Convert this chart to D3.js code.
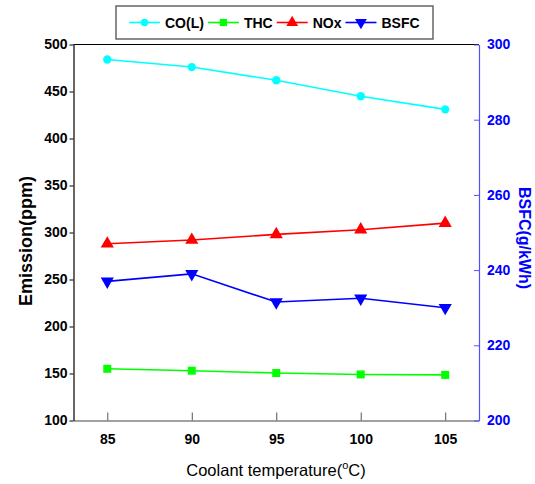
<!DOCTYPE html>
<html>
<head>
<meta charset="utf-8">
<script src="https://cdn.jsdelivr.net/npm/d3@7"></script>
<style>
  body { margin: 0; background: #fff; }
  text { font-family: "Liberation Sans", Arial, sans-serif; }
</style>
</head>
<body>
<div id="chart"></div>
<script>
// Data
var temps = [85, 90, 95, 100, 105];
var coL   = [484, 476, 462, 445, 431];
var thc   = [155, 153, 150.5, 149, 148.5];
var nox   = [288, 292, 298, 303, 310];
var bsfc  = [237, 239, 231.5, 232.5, 230];

var leftTicks  = [100, 150, 200, 250, 300, 350, 400, 450, 500];
var rightTicks = [200, 220, 240, 260, 280, 300];

var series = [
  {name: "CO(L)", values: coL,  axis: "left",  color: "#00ffff", symbol: d3.symbolCircle,   size: 55},
  {name: "THC",   values: thc,  axis: "left",  color: "#00ff00", symbol: d3.symbolSquare,   size: 64},
  {name: "NOx",   values: nox,  axis: "left",  color: "#ff0000", symbol: d3.symbolTriangle, size: 75},
  {name: "BSFC",  values: bsfc, axis: "right", color: "#0000ff", symbol: d3.symbolTriangle, size: 75, flip: true}
];

var width = 535, height = 484;
var plot = {left: 73.5, right: 479, top: 44.5, bottom: 420.5};

var svg = d3.select("#chart").append("svg")
    .attr("width", width)
    .attr("height", height);

var x  = d3.scaleLinear().domain([83, 107]).range([plot.left, plot.right]);
var yL = d3.scaleLinear().domain([100, 500]).range([plot.bottom, plot.top]);
var yR = d3.scaleLinear().domain([200, 300]).range([plot.bottom, plot.top]);

// top frame line
svg.append("line")
    .attr("x1", plot.left).attr("x2", plot.right)
    .attr("y1", plot.top).attr("y2", plot.top)
    .attr("stroke", "#000").attr("stroke-width", 1.2);

// bottom axis
var gx = svg.append("g")
    .attr("transform", "translate(0," + plot.bottom + ")")
    .call(d3.axisBottom(x).tickValues(temps).tickSizeInner(-8).tickSizeOuter(0).tickPadding(14));
gx.select(".domain").attr("stroke", "#444").attr("stroke-width", 1.2);
gx.selectAll(".tick line").attr("stroke", "#555");
gx.selectAll("text").attr("font-size", 14).attr("font-weight", "bold").attr("fill", "#000");

// left axis
var gl = svg.append("g")
    .attr("transform", "translate(" + plot.left + ",0)")
    .call(d3.axisLeft(yL).tickValues(leftTicks).tickSizeInner(4).tickSizeOuter(0).tickPadding(2));
gl.select(".domain").attr("stroke", "#000").attr("stroke-width", 1.2);
gl.selectAll("text").attr("font-size", 14).attr("font-weight", "bold").attr("fill", "#000");

// right axis
var gr = svg.append("g")
    .attr("transform", "translate(" + plot.right + ",0)")
    .call(d3.axisRight(yR).tickValues(rightTicks).tickSizeInner(-5).tickSizeOuter(0).tickPadding(8));
gr.select(".domain").attr("stroke", "#5050ff").attr("stroke-width", 1.2);
gr.selectAll(".tick line").attr("stroke", "#5050ff");
gr.selectAll("text").attr("font-size", 14).attr("font-weight", "bold").attr("fill", "#0000ff");

// axis titles
svg.append("text")
    .attr("transform", "translate(32,241) rotate(-90)")
    .attr("text-anchor", "middle")
    .attr("font-size", 18).attr("font-weight", "bold")
    .text("Emission(ppm)");

svg.append("text")
    .attr("transform", "translate(519,238) rotate(90)")
    .attr("text-anchor", "middle")
    .attr("font-size", 16).attr("font-weight", "bold")
    .attr("fill", "#0000ff")
    .text("BSFC(g/kWh)");

var xt = svg.append("text")
    .attr("x", 276).attr("y", 476)
    .attr("text-anchor", "middle")
    .attr("font-size", 16.5);
xt.append("tspan").text("Coolant temperature(");
xt.append("tspan").attr("font-size", 11).attr("dy", -7).text("o");
xt.append("tspan").attr("dy", 7).text("C)");

// series
var lineGen = function (yScale) {
  return d3.line()
      .x(function (d, i) { return x(temps[i]); })
      .y(function (d) { return yScale(d); });
};

series.forEach(function (s) {
  var ys = s.axis === "left" ? yL : yR;
  svg.append("path")
      .datum(s.values)
      .attr("fill", "none")
      .attr("stroke", s.color)
      .attr("stroke-width", 1.6)
      .attr("d", lineGen(ys));

  svg.selectAll(null)
      .data(s.values)
      .enter().append("path")
      .attr("d", d3.symbol().type(s.symbol).size(s.size))
      .attr("transform", function (d, i) {
        return "translate(" + x(temps[i]) + "," + ys(d) + ")" + (s.flip ? " rotate(180)" : "");
      })
      .attr("fill", s.color);
});

// legend
var legend = svg.append("g");
legend.append("rect")
    .attr("x", 116).attr("y", 6)
    .attr("width", 317).attr("height", 33)
    .attr("fill", "#fff")
    .attr("stroke", "#666").attr("stroke-width", 1.5);

var lx = 129, ly = 22.5;
series.forEach(function (s) {
  var item = legend.append("g");
  item.append("line")
      .attr("x1", lx).attr("x2", lx + 31)
      .attr("y1", ly).attr("y2", ly)
      .attr("stroke", s.color).attr("stroke-width", 1.6);
  item.append("path")
      .attr("d", d3.symbol().type(s.symbol).size(s.size * 0.8))
      .attr("transform", "translate(" + (lx + 15.5) + "," + ly + ")" + (s.flip ? " rotate(180)" : ""))
      .attr("fill", s.color);
  var t = item.append("text")
      .attr("x", lx + 36).attr("y", ly + 5)
      .attr("font-size", 14).attr("font-weight", "bold")
      .text(s.name);
  lx = lx + 36 + t.node().getComputedTextLength() + 4;
});
</script>
</body>
</html>
